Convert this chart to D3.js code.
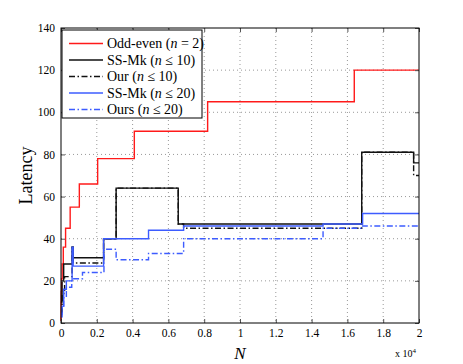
<!DOCTYPE html>
<html>
<head>
<meta charset="utf-8">
<script src="https://cdn.jsdelivr.net/npm/d3@7"></script>
<style>
  body { margin: 0; background: #fff; }
</style>
</head>
<body>
<div id="chart"></div>
<script>
// step data (N, latency)
const oddEvenN   = [0, 2, 4, 8, 16, 32, 64, 128, 256, 512, 1024, 2048, 4096, 8192, 16384, 20000];
const oddEvenLat = [1, 3, 6, 10, 15, 21, 28, 36, 45, 55, 66, 78, 91, 105, 120, 120];

const ssMk10N   = [0, 60, 150, 620, 680, 2380, 3080, 6550, 16800, 19700, 20000];
const ssMk10Lat = [10, 20, 28, 36, 31, 40, 64, 47, 81, 76, 76];

const our10N   = [0, 60, 200, 620, 680, 2380, 3080, 6550, 6850, 16800, 19700, 20000];
const our10Lat = [5, 14, 22, 36, 28.5, 40, 64, 47, 45, 81, 70, 70];

const ssMk20N   = [0, 50, 150, 300, 620, 680, 2380, 4890, 6850, 14640, 16850, 20000];
const ssMk20Lat = [4, 8, 16, 20, 36, 27, 40, 44, 46, 47, 52, 52];

const ours20N   = [0, 60, 150, 300, 600, 1200, 2400, 3080, 4890, 6850, 14640, 16850, 20000];
const ours20Lat = [3, 8, 12, 17, 21, 24, 35, 30, 33, 40, 45, 46, 46];

const xTicks = [0, 2000, 4000, 6000, 8000, 10000, 12000, 14000, 16000, 18000, 20000];
const yTicks = [0, 20, 40, 60, 80, 100, 120, 140];

const red = "#ff1a1a", blue = "#3d5cff", black = "#111";
const dashDot = "6,2.5,1.5,2.5";
const serif = "'Liberation Serif', 'Times New Roman', Times, serif";

const series = [
    {name: "Odd-even", n: "(n = 2)", xs: oddEvenN, ys: oddEvenLat, color: red, dash: null},
    {name: "SS-Mk", n: "(n ≤ 10)", xs: ssMk10N, ys: ssMk10Lat, color: black, dash: null},
    {name: "Our", n: "(n ≤ 10)", xs: our10N, ys: our10Lat, color: black, dash: dashDot},
    {name: "SS-Mk", n: "(n ≤ 20)", xs: ssMk20N, ys: ssMk20Lat, color: blue, dash: null},
    {name: "Ours", n: "(n ≤ 20)", xs: ours20N, ys: ours20Lat, color: blue, dash: dashDot}
];

const W = 463, H = 364;
const margin = {top: 28, right: 44, bottom: 41, left: 61};
const plotW = W - margin.left - margin.right;
const plotH = H - margin.top - margin.bottom;

const svg = d3.select("#chart").append("svg")
    .attr("width", W).attr("height", H);

const x = d3.scaleLinear().domain([0, 20000]).range([0, plotW]);
const y = d3.scaleLinear().domain([0, 140]).range([plotH, 0]);

const plot = svg.append("g")
    .attr("transform", "translate(" + margin.left + "," + margin.top + ")");

// dotted grid
plot.append("g").selectAll("line").data(xTicks.slice(1, -1)).join("line")
    .attr("x1", d => x(d)).attr("x2", d => x(d))
    .attr("y1", 0).attr("y2", plotH)
    .attr("stroke", "#999").attr("stroke-dasharray", "1,3");
plot.append("g").selectAll("line").data(yTicks.slice(1, -1)).join("line")
    .attr("y1", d => y(d)).attr("y2", d => y(d))
    .attr("x1", 0).attr("x2", plotW)
    .attr("stroke", "#999").attr("stroke-dasharray", "1,3");

// series
const line = d3.line()
    .x(d => x(d[0]))
    .y(d => y(d[1]))
    .curve(d3.curveStepAfter);

series.forEach(s => {
    plot.append("path")
        .datum(s.xs.map((v, i) => [v, s.ys[i]]))
        .attr("d", line)
        .attr("fill", "none")
        .attr("stroke", s.color)
        .attr("stroke-width", 1.4)
        .attr("stroke-dasharray", s.dash);
});

// axes with inward ticks on all four sides
const fmtX = d => d3.format("~g")(d / 10000);
const xAxisB = d3.axisBottom(x).tickValues(xTicks).tickSize(-4).tickPadding(6).tickFormat(fmtX);
const xAxisT = d3.axisTop(x).tickValues(xTicks).tickSize(-4).tickFormat("");
const yAxisL = d3.axisLeft(y).tickValues(yTicks).tickSize(-4).tickPadding(6);
const yAxisR = d3.axisRight(y).tickValues(yTicks).tickSize(-4).tickFormat("");

plot.append("g").attr("transform", "translate(0," + plotH + ")").call(xAxisB);
plot.append("g").call(xAxisT);
plot.append("g").call(yAxisL);
plot.append("g").attr("transform", "translate(" + plotW + ",0)").call(yAxisR);

plot.selectAll(".domain").remove();
plot.selectAll(".tick line").attr("stroke", "#555");
plot.selectAll(".tick text")
    .attr("font-family", serif)
    .attr("font-size", 11.5);

plot.append("rect")
    .attr("width", plotW).attr("height", plotH)
    .attr("fill", "none").attr("stroke", "#000").attr("stroke-width", 1);

// legend
const legend = svg.append("g").attr("transform", "translate(62,30)");
legend.append("rect")
    .attr("width", 140).attr("height", 88)
    .attr("fill", "#fff").attr("stroke", "#000").attr("stroke-width", 1);

series.forEach((s, i) => {
    const ly = 13.5 + i * 16.5;
    legend.append("line")
        .attr("x1", 7).attr("x2", 41)
        .attr("y1", ly).attr("y2", ly)
        .attr("stroke", s.color).attr("stroke-width", 1.4)
        .attr("stroke-dasharray", s.dash);
    const t = legend.append("text")
        .attr("x", 45).attr("y", ly + 4.5)
        .attr("font-family", serif)
        .attr("font-size", 14);
    t.append("tspan").text(s.name + " (");
    t.append("tspan").attr("font-style", "italic").text("n");
    t.append("tspan").text(s.n.slice(2));
});

// axis labels
svg.append("text")
    .attr("transform", "translate(32," + (margin.top + plotH / 2) + ") rotate(-90)")
    .attr("text-anchor", "middle")
    .attr("font-family", serif)
    .attr("font-size", 18)
    .text("Latency");

svg.append("text")
    .attr("x", margin.left + plotW / 2).attr("y", 359)
    .attr("text-anchor", "middle")
    .attr("font-family", serif)
    .attr("font-size", 17).attr("font-style", "italic")
    .text("N");

const exp = svg.append("text")
    .attr("x", 395).attr("y", 357)
    .attr("font-family", serif)
    .attr("font-size", 10);
exp.append("tspan").text("x 10");
exp.append("tspan").attr("dy", -4).attr("font-size", 7).text("4");
</script>
</body>
</html>
